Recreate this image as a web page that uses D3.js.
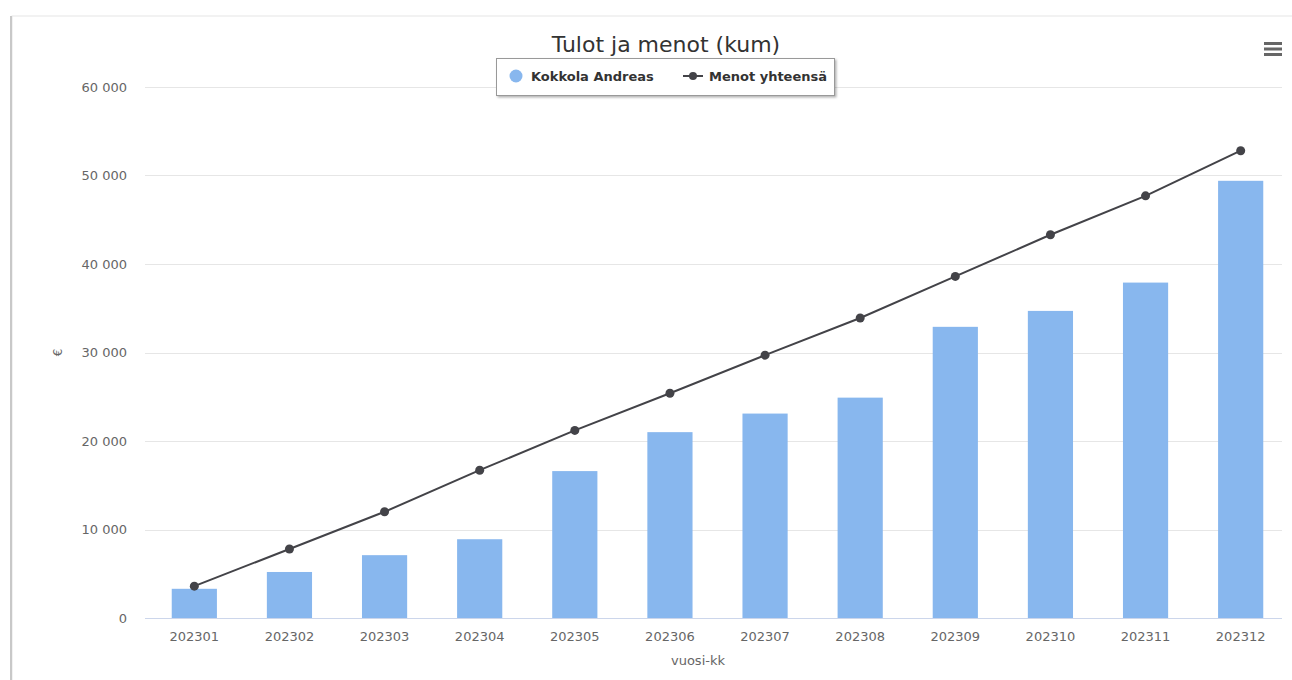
<!DOCTYPE html>
<html>
<head>
<meta charset="utf-8">
<script src="https://cdn.jsdelivr.net/npm/d3@7"></script>
<style>
  body { margin: 0; background: #fff; }
  svg { display: block; }
</style>
</head>
<body>
<script>
var width = 1292, height = 680;

// data
const months = ["202301","202302","202303","202304","202305","202306","202307","202308","202309","202310","202311","202312"];
const tulot = [3300, 5200, 7100, 8900, 16600, 21000, 23100, 24900, 32900, 34700, 37900, 49400];
const menot = [3600, 7800, 12000, 16700, 21200, 25400, 29700, 33900, 38600, 43300, 47700, 52800];
const yTicks = [0, 10000, 20000, 30000, 40000, 50000, 60000];

const plot = {left: 147, right: 1288, top: 87, bottom: 618};

var x = d3.scaleBand().domain(months).range([plot.left, plot.right]).paddingInner(0.525).paddingOuter(0.26);
var y = d3.scaleLinear().domain([0, 60000]).range([plot.bottom, plot.top]);

var fmt = v => d3.format(",")(v).replace(/,/g, " ");
var tickFont = "DejaVu Sans, sans-serif";

var svg = d3.select("body").append("svg")
  .attr("width", width)
  .attr("height", height);

var defs = svg.append("defs");
var sh = defs.append("filter").attr("id", "shadow").attr("x", "-10%").attr("y", "-30%").attr("width", "120%").attr("height", "160%");
sh.append("feDropShadow").attr("dx", 1.5).attr("dy", 1.5).attr("stdDeviation", 1.2).attr("flood-color", "#000").attr("flood-opacity", 0.3);

// chart frame
svg.append("rect")
  .attr("x", 12).attr("y", 16).attr("width", width).attr("height", height)
  .attr("fill", "#fff").attr("stroke", "#e6e6e6");
svg.append("line")
  .attr("x1", 11).attr("x2", 11).attr("y1", 16).attr("y2", height)
  .attr("stroke", "#c8c8c8").attr("stroke-width", 2);

// grid
svg.append("g")
  .selectAll("line")
  .data(yTicks.slice(1))
  .enter().append("line")
  .attr("x1", plot.left - 2).attr("x2", 1282)
  .attr("y1", d => Math.round(y(d)) + 0.5).attr("y2", d => Math.round(y(d)) + 0.5)
  .attr("stroke", "#e6e6e6");

// y labels
svg.append("g")
  .selectAll("text")
  .data(yTicks)
  .enter().append("text")
  .attr("x", 127).attr("y", d => y(d) + 4.5)
  .attr("text-anchor", "end")
  .attr("font-family", tickFont).attr("font-size", 13)
  .attr("fill", "#666")
  .text(fmt);

svg.append("text")
  .attr("transform", "translate(62," + ((plot.top + plot.bottom) / 2) + ") rotate(-90)")
  .attr("text-anchor", "middle")
  .attr("font-family", tickFont).attr("font-size", 12)
  .attr("fill", "#666")
  .text("€");

// bars
svg.append("g")
  .selectAll("rect")
  .data(months)
  .enter().append("rect")
  .attr("x", d => x(d))
  .attr("y", (d, i) => y(tulot[i]))
  .attr("width", x.bandwidth())
  .attr("height", (d, i) => y(0) - y(tulot[i]))
  .attr("fill", "#88b7ee");

// x axis line
svg.append("line")
  .attr("x1", plot.left - 2).attr("x2", 1282)
  .attr("y1", plot.bottom + 0.5).attr("y2", plot.bottom + 0.5)
  .attr("stroke", "#ccd6eb");

svg.append("g")
  .selectAll("text")
  .data(months)
  .enter().append("text")
  .attr("x", d => x(d) + x.bandwidth() / 2)
  .attr("y", 641)
  .attr("text-anchor", "middle")
  .attr("font-family", tickFont).attr("font-size", 13)
  .attr("fill", "#666")
  .text(d => d);

svg.append("text")
  .attr("x", 698).attr("y", 665)
  .attr("text-anchor", "middle")
  .attr("font-family", tickFont).attr("font-size", 13)
  .attr("fill", "#666")
  .text("vuosi-kk");

// line series
var line = d3.line()
  .x((d, i) => x(months[i]) + x.bandwidth() / 2)
  .y(d => y(d));

svg.append("path")
  .datum(menot)
  .attr("d", line)
  .attr("fill", "none")
  .attr("stroke", "#434348")
  .attr("stroke-width", 2);

svg.append("g")
  .selectAll("circle")
  .data(menot)
  .enter().append("circle")
  .attr("cx", (d, i) => x(months[i]) + x.bandwidth() / 2)
  .attr("cy", d => y(d))
  .attr("r", 4.5)
  .attr("fill", "#434348");

// title
svg.append("text")
  .attr("x", 666).attr("y", 52)
  .attr("text-anchor", "middle")
  .attr("font-family", "DejaVu Sans, sans-serif").attr("font-size", 22)
  .attr("fill", "#333")
  .text("Tulot ja menot (kum)");

// legend
var lg = svg.append("g");
lg.append("rect")
  .attr("x", 496.5).attr("y", 58.5).attr("width", 338).attr("height", 37)
  .attr("fill", "#fff").attr("stroke", "#999").attr("stroke-width", 1)
  .attr("filter", "url(#shadow)");
lg.append("circle").attr("cx", 516).attr("cy", 76).attr("r", 6.5).attr("fill", "#88b7ee");
lg.append("text")
  .attr("x", 531).attr("y", 81)
  .attr("font-family", "DejaVu Sans, sans-serif").attr("font-size", 13).attr("font-weight", "bold")
  .attr("fill", "#333")
  .text("Kokkola Andreas");
lg.append("line").attr("x1", 683).attr("x2", 703).attr("y1", 76).attr("y2", 76)
  .attr("stroke", "#434348").attr("stroke-width", 2);
lg.append("circle").attr("cx", 693).attr("cy", 76).attr("r", 4).attr("fill", "#434348");
lg.append("text")
  .attr("x", 709).attr("y", 81)
  .attr("font-family", "DejaVu Sans, sans-serif").attr("font-size", 13).attr("font-weight", "bold")
  .attr("fill", "#333")
  .text("Menot yhteensä");

// menu icon
svg.append("g")
  .selectAll("rect")
  .data([0, 1, 2])
  .enter().append("rect")
  .attr("x", 1264).attr("y", d => 42 + d * 5.5)
  .attr("width", 18).attr("height", 3)
  .attr("fill", "#666");
</script>
</body>
</html>
